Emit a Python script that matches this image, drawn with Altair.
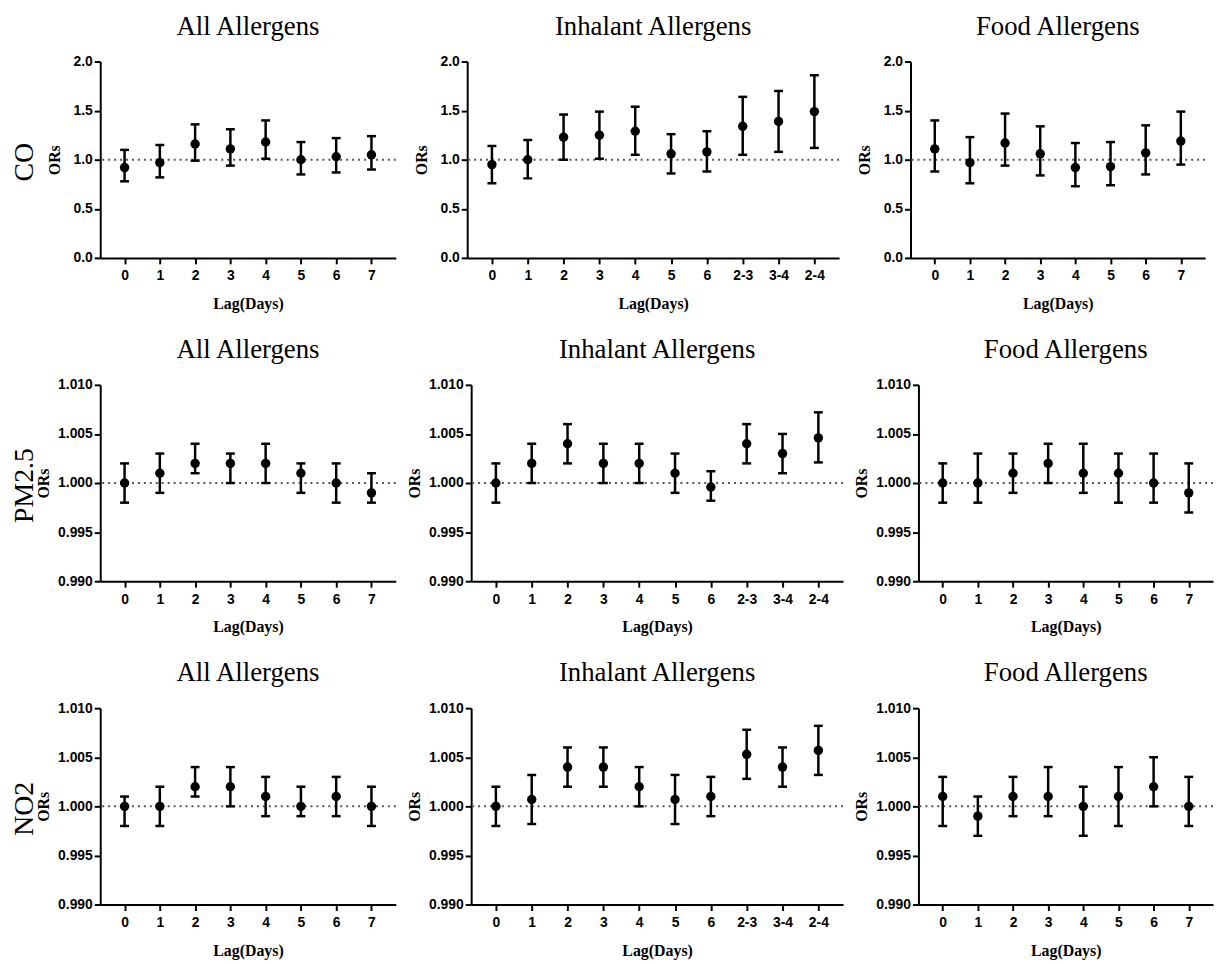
import altair as alt
import pandas as pd

lags_single = ["0", "1", "2", "3", "4", "5", "6", "7"]
lags_inhal = ["0", "1", "2", "3", "4", "5", "6", "2-3", "3-4", "2-4"]

pollutants = ["CO", "PM2.5", "NO2"]
groups = ["All Allergens", "Inhalant Allergens", "Food Allergens"]

# CO
co_all_or = [0.92, 0.97, 1.16, 1.11, 1.18, 1.00, 1.03, 1.05]
co_all_lo = [0.78, 0.82, 0.99, 0.94, 1.01, 0.85, 0.87, 0.90]
co_all_hi = [1.10, 1.15, 1.36, 1.31, 1.40, 1.18, 1.22, 1.24]

co_inh_or = [0.95, 1.00, 1.23, 1.25, 1.29, 1.06, 1.08, 1.34, 1.39, 1.49]
co_inh_lo = [0.76, 0.81, 1.00, 1.01, 1.05, 0.86, 0.88, 1.05, 1.08, 1.12]
co_inh_hi = [1.14, 1.20, 1.46, 1.49, 1.54, 1.26, 1.29, 1.64, 1.70, 1.86]

co_food_or = [1.11, 0.97, 1.17, 1.06, 0.92, 0.93, 1.07, 1.19]
co_food_lo = [0.88, 0.76, 0.94, 0.84, 0.73, 0.74, 0.85, 0.95]
co_food_hi = [1.40, 1.23, 1.47, 1.34, 1.17, 1.18, 1.35, 1.49]

# PM2.5
pm_all_or = [1.000, 1.001, 1.002, 1.002, 1.002, 1.001, 1.000, 0.999]
pm_all_lo = [0.998, 0.999, 1.001, 1.000, 1.000, 0.999, 0.998, 0.998]
pm_all_hi = [1.002, 1.003, 1.004, 1.003, 1.004, 1.002, 1.002, 1.001]

pm_inh_or = [1.000, 1.002, 1.004, 1.002, 1.002, 1.001, 0.9996, 1.004, 1.003, 1.0046]
pm_inh_lo = [0.998, 1.000, 1.002, 1.000, 1.000, 0.999, 0.9982, 1.002, 1.001, 1.0021]
pm_inh_hi = [1.002, 1.004, 1.006, 1.004, 1.004, 1.003, 1.0012, 1.006, 1.005, 1.0072]

pm_food_or = [1.000, 1.000, 1.001, 1.002, 1.001, 1.001, 1.000, 0.999]
pm_food_lo = [0.998, 0.998, 0.999, 1.000, 0.999, 0.998, 0.998, 0.997]
pm_food_hi = [1.002, 1.003, 1.003, 1.004, 1.004, 1.003, 1.003, 1.002]

# NO2
no_all_or = [1.000, 1.000, 1.002, 1.002, 1.001, 1.000, 1.001, 1.000]
no_all_lo = [0.998, 0.998, 1.001, 1.000, 0.999, 0.999, 0.999, 0.998]
no_all_hi = [1.001, 1.002, 1.004, 1.004, 1.003, 1.002, 1.003, 1.002]

no_inh_or = [1.000, 1.0007, 1.004, 1.004, 1.002, 1.0007, 1.001, 1.0053, 1.004, 1.0057]
no_inh_lo = [0.998, 0.9982, 1.002, 1.002, 1.000, 0.9982, 0.999, 1.0028, 1.002, 1.0032]
no_inh_hi = [1.002, 1.0032, 1.006, 1.006, 1.004, 1.0032, 1.003, 1.0078, 1.006, 1.0082]

no_food_or = [1.001, 0.999, 1.001, 1.001, 1.000, 1.001, 1.002, 1.000]
no_food_lo = [0.998, 0.997, 0.999, 0.999, 0.997, 0.998, 1.000, 0.998]
no_food_hi = [1.003, 1.001, 1.003, 1.004, 1.002, 1.004, 1.005, 1.003]

co_ticks = [0.0, 0.5, 1.0, 1.5, 2.0]
small_ticks = [0.990, 0.995, 1.000, 1.005, 1.010]

SERIF = "Liberation Serif"
SANS = "Liberation Sans"


def panel(title, lags, orv, lo, hi, width, ydomain, yticks, yfmt, title_x):
    df = pd.DataFrame({"lag": lags, "or": orv, "lo": lo, "hi": hi})
    xenc = alt.X(
        "lag:N",
        sort=lags,
        scale=alt.Scale(type="point", padding=0.69),
        axis=alt.Axis(title="Lag(Days)", labelAngle=0, labelPadding=5, titlePadding=13),
    )

    def yenc(field):
        return alt.Y(
            field,
            type="quantitative",
            scale=alt.Scale(domain=ydomain, nice=False, zero=False),
            axis=alt.Axis(title="ORs", values=yticks, format=yfmt, titleX=title_x),
        )

    base = alt.Chart(df)
    ref = alt.Chart(pd.DataFrame({"ref": [1.0]})).mark_rule(
        strokeDash=[2, 4], color="#555555", strokeWidth=2
    ).encode(y=yenc("ref"))
    bars = base.mark_rule(strokeWidth=2.5, color="black").encode(
        x=xenc, y=yenc("lo"), y2="hi"
    )
    cap_lo = base.mark_tick(size=9, thickness=2.5, color="black", opacity=1).encode(
        x=xenc, y=yenc("lo")
    )
    cap_hi = base.mark_tick(size=9, thickness=2.5, color="black", opacity=1).encode(
        x=xenc, y=yenc("hi")
    )
    pts = base.mark_circle(size=90, color="black", opacity=1).encode(x=xenc, y=yenc("or"))
    return alt.layer(ref, bars, cap_lo, cap_hi, pts).properties(
        width=width,
        height=198,
        title=alt.TitleParams(
            title, font=SERIF, fontSize=27, fontWeight="normal", color="black", offset=14
        ),
    )


data = {
    "CO": [(co_all_or, co_all_lo, co_all_hi), (co_inh_or, co_inh_lo, co_inh_hi), (co_food_or, co_food_lo, co_food_hi)],
    "PM2.5": [(pm_all_or, pm_all_lo, pm_all_hi), (pm_inh_or, pm_inh_lo, pm_inh_hi), (pm_food_or, pm_food_lo, pm_food_hi)],
    "NO2": [(no_all_or, no_all_lo, no_all_hi), (no_inh_or, no_inh_lo, no_inh_hi), (no_food_or, no_food_lo, no_food_hi)],
}
widths = [298, 375, 297]
lag_sets = [lags_single, lags_inhal, lags_single]

rows = []
for pol in pollutants:
    if pol == "CO":
        dom, ticks, fmt, tx, sp, off = [0, 2], co_ticks, ".1f", -38, 17, 8
    else:
        dom, ticks, fmt, tx, sp, off = [0.990, 1.010], small_ticks, ".3f", -49, 10, -3
    panels = []
    for i, g in enumerate(groups):
        o, l, h = data[pol][i]
        panels.append(panel(g, lag_sets[i], o, l, h, widths[i], dom, ticks, fmt, tx))
    row = alt.hconcat(*panels, spacing=sp).properties(
        title=alt.TitleParams(
            pol, orient="left", font=SERIF, fontSize=28, fontWeight="normal",
            color="black", offset=off, anchor="middle"
        )
    )
    rows.append(row)

chart = alt.vconcat(*rows, spacing=25).properties(
    padding={"left": 3, "top": 1, "right": 0, "bottom": 3}
).configure_view(stroke=None).configure_axis(
    domainColor="black", domainWidth=2, tickColor="black", tickWidth=2, tickSize=6,
    labelFont=SANS, labelFontWeight="bold", labelFontSize=14, labelColor="black",
    titleFont=SERIF, titleFontWeight="bold", titleFontSize=16, titleColor="black",
    grid=False,
)

chart.save("out.html", embed_options={"renderer": "svg", "actions": False})
